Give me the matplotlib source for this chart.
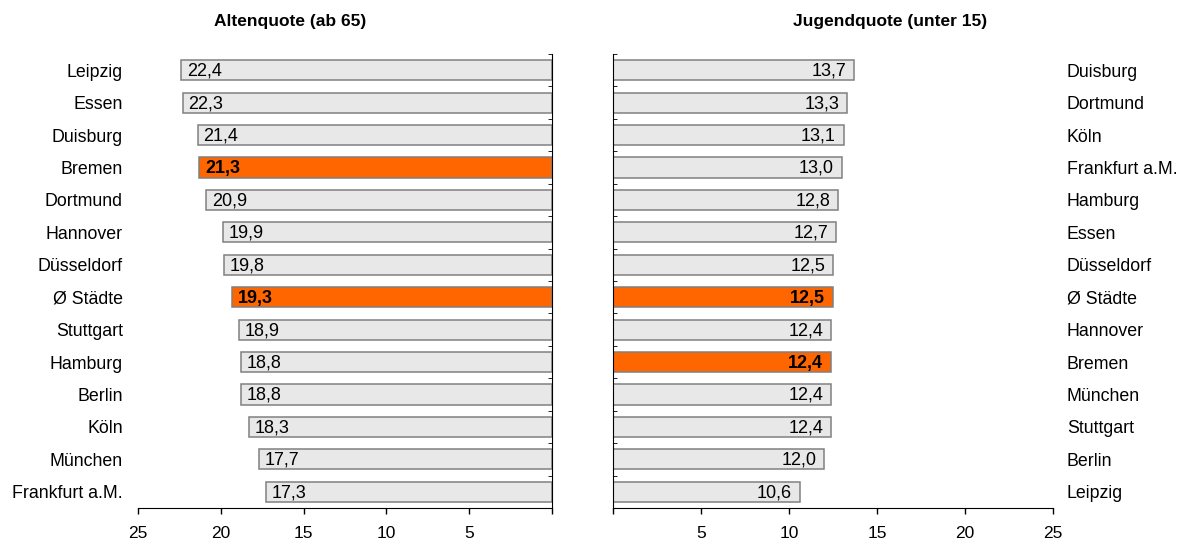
import matplotlib.pyplot as plt
import numpy as np

plt.rcParams['font.family'] = ['Liberation Sans', 'DejaVu Sans']

# Altenquote (share aged 65+), top to bottom
alt_cities = ["Leipzig", "Essen", "Duisburg", "Bremen", "Dortmund", "Hannover",
              "Düsseldorf", "Ø Städte", "Stuttgart", "Hamburg", "Berlin", "Köln",
              "München", "Frankfurt a.M."]
alt_values = [22.4, 22.3, 21.4, 21.3, 20.9, 19.9, 19.8, 19.3, 18.9, 18.8, 18.8,
              18.3, 17.7, 17.3]

# Jugendquote (share under 15), top to bottom
jug_cities = ["Duisburg", "Dortmund", "Köln", "Frankfurt a.M.", "Hamburg", "Essen",
              "Düsseldorf", "Ø Städte", "Hannover", "Bremen", "München", "Stuttgart",
              "Berlin", "Leipzig"]
jug_values = [13.7, 13.3, 13.1, 13.0, 12.8, 12.7, 12.5, 12.5, 12.4, 12.4, 12.4,
              12.4, 12.0, 10.6]

highlight = ["Bremen", "Ø Städte"]

GREY = "#e8e8e8"
EDGE = "#808080"
ORANGE = "#ff6600"


def fmt(v):
    return f"{v:.1f}".replace(".", ",")


def draw_panel(ax, cities, values, side):
    n = len(cities)
    y = np.arange(n)
    colors = [ORANGE if c in highlight else GREY for c in cities]
    ax.barh(y, values, height=0.62, color=colors, edgecolor=EDGE, linewidth=1.1)
    ax.set_ylim(n - 0.5, -0.5)
    ax.set_xlim(0, 25)
    ax.set_yticks(y)
    ax.set_yticklabels(cities, fontsize=12.8)
    ax.set_yticks(np.arange(n + 1) - 0.5, minor=True)
    ax.tick_params(axis="y", which="major", length=0)
    ax.tick_params(axis="x", which="major", direction="out", length=4,
                   width=1, pad=9, labelsize=12.5)
    ax.spines["top"].set_visible(False)

    for yi, v, c in zip(y, values, cities):
        weight = "bold" if c in highlight else "normal"
        if side == "left":
            ax.text(v - 0.35, yi + 0.03, fmt(v), ha="left", va="center",
                    fontsize=13, fontweight=weight)
        else:
            ax.text(v - 0.45, yi + 0.03, fmt(v), ha="right", va="center",
                    fontsize=13, fontweight=weight)

    if side == "left":
        ax.invert_xaxis()
        ax.set_xticks([25, 20, 15, 10, 5, 0])
        ax.set_xticklabels(["25", "20", "15", "10", "5", ""])
        ax.spines["left"].set_visible(False)
        ax.tick_params(axis="y", which="major", left=False, right=False,
                       labelleft=True, labelright=False, pad=11)
        ax.tick_params(axis="y", which="minor", right=True, left=False,
                       direction="in", length=3)
    else:
        ax.set_xticks([0, 5, 10, 15, 20, 25])
        ax.set_xticklabels(["", "5", "10", "15", "20", "25"])
        ax.spines["right"].set_visible(False)
        ax.tick_params(axis="y", which="major", left=False, right=False,
                       labelleft=False, labelright=True, pad=10)
        ax.tick_params(axis="y", which="minor", left=True, right=False,
                       direction="in", length=3)


fig = plt.figure(figsize=(11.87, 5.40), dpi=100)
ax_alt = fig.add_axes([0.1163, 0.0593, 0.3488, 0.8407])
ax_jug = fig.add_axes([0.5164, 0.0593, 0.3707, 0.8407])

draw_panel(ax_alt, alt_cities, alt_values, "left")
draw_panel(ax_jug, jug_cities, jug_values, "right")

fig.text(0.2443, 0.96, "Altenquote (ab 65)", ha="center", va="center",
         fontsize=12.5, fontweight="bold")
fig.text(0.75, 0.96, "Jugendquote (unter 15)", ha="center", va="center",
         fontsize=12.5, fontweight="bold")

fig.savefig("out.png", dpi=100)
